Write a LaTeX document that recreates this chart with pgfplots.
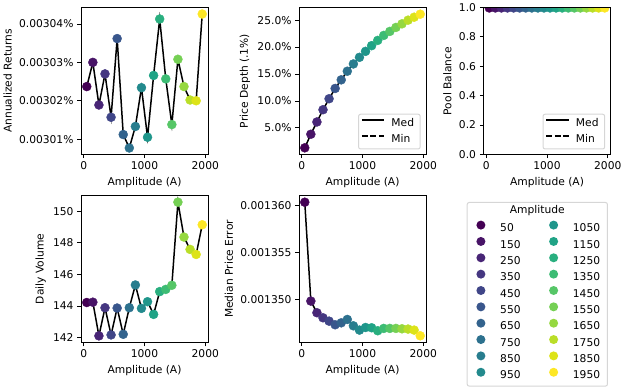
\documentclass[border=0pt]{standalone}
\usepackage{fontspec}
\setmainfont{DejaVu Sans}
\usepackage{pgfplots}
\usepackage{pgfplotstable}
\pgfplotsset{compat=1.18}

\definecolor{v0}{RGB}{68,1,84}
\definecolor{v1}{RGB}{72,20,103}
\definecolor{v2}{RGB}{72,37,118}
\definecolor{v3}{RGB}{69,55,129}
\definecolor{v4}{RGB}{64,70,136}
\definecolor{v5}{RGB}{57,86,140}
\definecolor{v6}{RGB}{51,99,141}
\definecolor{v7}{RGB}{45,113,142}
\definecolor{v8}{RGB}{40,125,142}
\definecolor{v9}{RGB}{35,138,141}
\definecolor{v10}{RGB}{31,150,139}
\definecolor{v11}{RGB}{32,163,134}
\definecolor{v12}{RGB}{41,175,127}
\definecolor{v13}{RGB}{61,188,116}
\definecolor{v14}{RGB}{86,198,103}
\definecolor{v15}{RGB}{117,208,84}
\definecolor{v16}{RGB}{149,216,64}
\definecolor{v17}{RGB}{186,222,40}
\definecolor{v18}{RGB}{221,227,24}
\definecolor{v19}{RGB}{253,231,37}
\definecolor{legframe}{RGB}{214,214,214}

\pgfplotsset{colormap={vir}{rgb255=(68,1,84) rgb255=(72,20,103) rgb255=(72,37,118) rgb255=(69,55,129) rgb255=(64,70,136) rgb255=(57,86,140) rgb255=(51,99,141) rgb255=(45,113,142) rgb255=(40,125,142) rgb255=(35,138,141) rgb255=(31,150,139) rgb255=(32,163,134) rgb255=(41,175,127) rgb255=(61,188,116) rgb255=(86,198,103) rgb255=(117,208,84) rgb255=(149,216,64) rgb255=(186,222,40) rgb255=(221,227,24) rgb255=(253,231,37)}}

\pgfplotsset{
  sub/.style={
    scale only axis, width=127pt, height=147pt, anchor=south west,
    xmin=-45, xmax=2045, xtick={0,1000,2000}, xticklabels={0,1000,2000},
    scaled x ticks=false, scaled y ticks=false,
    tick align=outside, tick pos=left, major tick length=3.75pt,
    every tick/.style={black, line width=0.85pt},
    axis line style={line width=0.85pt},
    xlabel={Amplitude (A)},
    colormap name=vir, point meta min=50, point meta max=1950,
    axis on top, clip marker paths=true,
    /pgf/number format/assume math mode=true,
  },
  dots/.style={scatter, only marks, mark=*, mark size=4.5pt, point meta=x,
    scatter/use mapped color={draw=mapped color, fill=mapped color}},
  pdot/.style={only marks, mark=*, mark size=4.5pt, color=#1, mark options={draw=#1, fill=#1}, forget plot},
  blk/.style={black, line width=1.5pt, no marks},
  mm/.style={
    legend style={at={(1,0)}, anchor=south east, xshift=-5.35pt, yshift=5pt,
      draw=legframe, line width=1pt, rounded corners=2pt, fill=white,
      inner xsep=2.5pt, inner ysep=1.8pt, row sep=0pt,
      nodes={inner xsep=3.6pt, inner ysep=2.9pt, outer sep=0pt, text height=7.8pt, text depth=2pt}},
    legend cell align=left,
    legend image code/.code={\draw[##1] (0pt,3.6pt) -- (22.5pt,3.6pt); \path[draw=none] (0pt,3.6pt) -- (26pt,3.6pt);},
  },
  vleg/.style={legend image code/.code={\path[draw=none] (0pt,-1pt) rectangle (25.7pt,8pt); \path[draw=none, fill=#1] (10.7pt,3.8pt) circle (4.5pt);}},
}

\pgfplotstableread{
x y
50 0.0030237
150 0.0030300
250 0.0030189
350 0.0030270
450 0.0030157
550 0.0030362
650 0.0030112
750 0.0030077
850 0.0030133
950 0.0030234
1050 0.0030105
1150 0.0030266
1250 0.0030413
1350 0.0030257
1450 0.0030138
1550 0.0030308
1650 0.0030237
1750 0.0030202
1850 0.0030200
1950 0.0030426
}\tret

\pgfplotstableread{
x y
50 1.30
150 3.82
250 6.10
350 8.37
450 10.41
550 12.32
650 13.92
750 15.52
850 16.87
950 18.10
1050 19.21
1150 20.26
1250 21.24
1350 22.17
1450 22.91
1550 23.65
1650 24.32
1750 25.00
1850 25.55
1950 26.11
}\tdepth

\pgfplotstableread{
x y
50 0.997
150 0.997
250 0.997
350 0.997
450 0.997
550 0.997
650 0.997
750 0.997
850 0.997
950 0.997
1050 0.997
1150 0.997
1250 0.997
1350 0.997
1450 0.997
1550 0.997
1650 0.997
1750 0.997
1850 0.997
1950 0.997
}\tbal

\pgfplotstableread{
x y
50 144.22
150 144.24
250 142.11
350 143.89
450 142.17
550 143.87
650 142.21
750 143.89
850 145.33
950 143.85
1050 144.27
1150 143.47
1250 144.91
1350 145.05
1450 145.31
1550 150.57
1650 148.36
1750 147.58
1850 147.26
1950 149.14
}\tvol

\pgfplotstableread{
x y
50 0.00136039
150 0.00134979
250 0.00134854
350 0.00134800
450 0.00134764
550 0.00134725
650 0.00134746
750 0.00134782
850 0.00134714
950 0.00134668
1050 0.00134696
1150 0.00134693
1250 0.00134661
1350 0.00134686
1450 0.00134686
1550 0.00134686
1650 0.00134682
1750 0.00134679
1850 0.00134668
1950 0.00134607
}\terr

\begin{document}
\fontsize{10.7pt}{12.8pt}\selectfont
\begin{tikzpicture}
\useasboundingbox (0,0) rectangle (624pt,391pt);

% Annualized Returns
\begin{axis}[sub, at={(81pt,236.5pt)},
  ymin=0.0030060, ymax=0.0030443,
  ytick={0.00301,0.00302,0.00303,0.00304},
  yticklabels={0.00301\%,0.00302\%,0.00303\%,0.00304\%},
  ylabel={Annualized Returns}]
\addplot[blk] table[x=x,y=y]{\tret};
\addplot[dots] table[x=x,y=y]{\tret};
\end{axis}

% Price Depth
\begin{axis}[sub, mm, at={(299pt,236.5pt)},
  ymin=0.06, ymax=27.35,
  ytick={5,10,15,20,25},
  yticklabels={5.0\%,10.0\%,15.0\%,20.0\%,25.0\%},
  ylabel={Price Depth (.1\%)}]
\addplot[blk, forget plot] table[x=x,y=y]{\tdepth};
\addplot[dots, forget plot] table[x=x,y=y]{\tdepth};
\addlegendimage{black, line width=1.5pt}
\addlegendentry{Med}
\addlegendimage{black, line width=1.5pt, dash pattern=on 5.9pt off 2.6pt}
\addlegendentry{Min}
\end{axis}

% Pool Balance
\begin{axis}[sub, mm, at={(483.5pt,236.5pt)},
  ymin=0, ymax=1,
  ytick={0,0.2,0.4,0.6,0.8,1},
  yticklabels={0.0,0.2,0.4,0.6,0.8,1.0},
  ylabel={Pool Balance}]
\addplot[blk, forget plot] table[x=x,y=y]{\tbal};
\addplot[pdot=v0] coordinates {(50,0.997)};
\addplot[pdot=v1] coordinates {(150,0.997)};
\addplot[pdot=v2] coordinates {(250,0.997)};
\addplot[pdot=v3] coordinates {(350,0.997)};
\addplot[pdot=v4] coordinates {(450,0.997)};
\addplot[pdot=v5] coordinates {(550,0.997)};
\addplot[pdot=v6] coordinates {(650,0.997)};
\addplot[pdot=v7] coordinates {(750,0.997)};
\addplot[pdot=v8] coordinates {(850,0.997)};
\addplot[pdot=v9] coordinates {(950,0.997)};
\addplot[pdot=v10] coordinates {(1050,0.997)};
\addplot[pdot=v11] coordinates {(1150,0.997)};
\addplot[pdot=v12] coordinates {(1250,0.997)};
\addplot[pdot=v13] coordinates {(1350,0.997)};
\addplot[pdot=v14] coordinates {(1450,0.997)};
\addplot[pdot=v15] coordinates {(1550,0.997)};
\addplot[pdot=v16] coordinates {(1650,0.997)};
\addplot[pdot=v17] coordinates {(1750,0.997)};
\addplot[pdot=v18] coordinates {(1850,0.997)};
\addplot[pdot=v19] coordinates {(1950,0.997)};
\addlegendimage{black, line width=1.5pt}
\addlegendentry{Med}
\addlegendimage{black, line width=1.5pt, dash pattern=on 5.9pt off 2.6pt}
\addlegendentry{Min}
\end{axis}

% Daily Volume
\begin{axis}[sub, at={(81pt,48.5pt)},
  ymin=141.69, ymax=150.99,
  ytick={142,144,146,148,150},
  yticklabels={142,144,146,148,150},
  ylabel={Daily Volume}]
\addplot[blk] table[x=x,y=y]{\tvol};
\addplot[dots] table[x=x,y=y]{\tvol};
\end{axis}

% Median Price Error
\begin{axis}[sub, at={(299pt,48.5pt)},
  ymin=0.00134535, ymax=0.00136111,
  ytick={0.00135,0.001355,0.00136},
  yticklabels={0.001350,0.001355,0.001360},
  ylabel={Median Price Error}]
\addplot[blk] table[x=x,y=y]{\terr};
\addplot[dots] table[x=x,y=y]{\terr};
\end{axis}

% Legend panel
\begin{axis}[hide axis, scale only axis, width=139pt, height=182pt,
  at={(466.7pt,7pt)}, anchor=south west,
  xmin=0, xmax=1, ymin=0, ymax=1,
  legend columns=2, legend cell align=left,
  legend style={at={(0,1)}, anchor=north west,
    draw=legframe, line width=1pt, rounded corners=2pt, fill=white,
    inner xsep=3pt, inner ysep=2pt, row sep=0pt,
    nodes={inner xsep=4.3pt, inner ysep=3.15pt, outer sep=0pt, text height=7.8pt, text depth=2pt},
    /tikz/every even column/.append style={column sep=18pt},
    label={[anchor=north, inner sep=0pt, text height=8pt, text depth=2.5pt, yshift=-3pt]north:Amplitude}},
]
\addlegendimage{empty legend}\addlegendentry{}
\addlegendimage{empty legend}\addlegendentry{}
\addlegendimage{vleg=v0}\addlegendentry{50}
\addlegendimage{vleg=v10}\addlegendentry{1050}
\addlegendimage{vleg=v1}\addlegendentry{150}
\addlegendimage{vleg=v11}\addlegendentry{1150}
\addlegendimage{vleg=v2}\addlegendentry{250}
\addlegendimage{vleg=v12}\addlegendentry{1250}
\addlegendimage{vleg=v3}\addlegendentry{350}
\addlegendimage{vleg=v13}\addlegendentry{1350}
\addlegendimage{vleg=v4}\addlegendentry{450}
\addlegendimage{vleg=v14}\addlegendentry{1450}
\addlegendimage{vleg=v5}\addlegendentry{550}
\addlegendimage{vleg=v15}\addlegendentry{1550}
\addlegendimage{vleg=v6}\addlegendentry{650}
\addlegendimage{vleg=v16}\addlegendentry{1650}
\addlegendimage{vleg=v7}\addlegendentry{750}
\addlegendimage{vleg=v17}\addlegendentry{1750}
\addlegendimage{vleg=v8}\addlegendentry{850}
\addlegendimage{vleg=v18}\addlegendentry{1850}
\addlegendimage{vleg=v9}\addlegendentry{950}
\addlegendimage{vleg=v19}\addlegendentry{1950}
\end{axis}
\end{tikzpicture}
\end{document}
